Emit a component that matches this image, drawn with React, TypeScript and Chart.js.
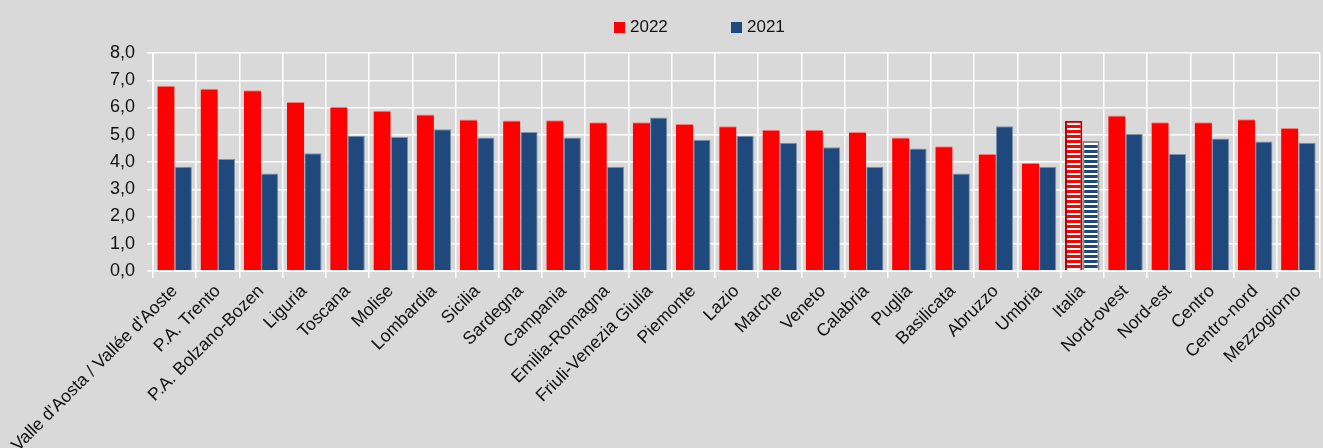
import React, { useEffect, useRef } from 'react';
import Chart from 'chart.js/auto';

const categories = [
  "Valle d'Aosta / Vallée d'Aoste", 'P.A. Trento', 'P.A. Bolzano-Bozen', 'Liguria', 'Toscana',
  'Molise', 'Lombardia', 'Sicilia', 'Sardegna', 'Campania', 'Emilia-Romagna',
  'Friuli-Venezia Giulia', 'Piemonte', 'Lazio', 'Marche', 'Veneto', 'Calabria', 'Puglia',
  'Basilicata', 'Abruzzo', 'Umbria', 'Italia', 'Nord-ovest', 'Nord-est', 'Centro',
  'Centro-nord', 'Mezzogiorno',
];

const values2022 = [
  6.8, 6.69, 6.63, 6.2, 6.02, 5.88, 5.74, 5.56, 5.52, 5.53, 5.46, 5.46, 5.39, 5.31,
  5.18, 5.18, 5.1, 4.9, 4.58, 4.29, 3.96, 5.51, 5.71, 5.46, 5.46, 5.57, 5.25,
];

const values2021 = [
  3.83, 4.11, 3.58, 4.32, 4.96, 4.92, 5.2, 4.9, 5.1, 4.9, 3.83, 5.63, 4.82, 4.96,
  4.71, 4.54, 3.83, 4.5, 3.58, 5.31, 3.83, 4.77, 5.03, 4.29, 4.86, 4.75, 4.71,
];

const seriesLabels = ['2022', '2021'];
const yTicks = [0, 1, 2, 3, 4, 5, 6, 7, 8];

const RED = '#ff0000';
const BLUE = '#1f497d';
const BG = '#d9d9d9';
const FONT = "'Liberation Sans', Arial, sans-serif";

// horizontal stripes used for the national total
function stripes(color: string): CanvasPattern | string {
  const c = document.createElement('canvas');
  c.width = 4;
  c.height = 5;
  const g = c.getContext('2d');
  if (!g) return color;
  g.fillStyle = '#ffffff';
  g.fillRect(0, 0, 4, 5);
  g.fillStyle = color;
  g.fillRect(0, 0, 4, 3);
  return g.createPattern(c, 'repeat') || color;
}

const App: React.FC = () => {
  const canvasRef = useRef<HTMLCanvasElement | null>(null);

  useEffect(() => {
    document.body.style.margin = '0';
    document.body.style.background = BG;
    if (!canvasRef.current) return;

    const hl = categories.indexOf('Italia');
    const redStripes = stripes(RED);
    const blueStripes = stripes(BLUE);

    const chart = new Chart(canvasRef.current, {
      type: 'bar',
      data: {
        labels: categories,
        datasets: [
          {
            label: seriesLabels[0],
            data: values2022,
            backgroundColor: (c: any) => (c.dataIndex === hl ? redStripes : RED),
            borderColor: (c: any) => (c.dataIndex === hl ? '#c00000' : '#ff7a7a'),
            borderWidth: (c: any) => (c.dataIndex === hl ? 2 : { top: 1, left: 0, right: 0, bottom: 0 }),
            categoryPercentage: 0.8,
            barPercentage: 1,
          },
          {
            label: seriesLabels[1],
            data: values2021,
            backgroundColor: (c: any) => (c.dataIndex === hl ? blueStripes : BLUE),
            borderColor: (c: any) => (c.dataIndex === hl ? '#8c8c8c' : '#7d93ae'),
            borderWidth: (c: any) => (c.dataIndex === hl ? 2 : 1),
            categoryPercentage: 0.8,
            barPercentage: 1,
          },
        ],
      },
      options: {
        animation: false,
        responsive: true,
        maintainAspectRatio: false,
        layout: { padding: { top: 53, right: 3, left: 0, bottom: 0 } },
        plugins: {
          legend: { display: false },
          tooltip: { enabled: false },
        },
        scales: {
          x: {
            grid: { color: '#ffffff', lineWidth: 1.5, tickLength: 7, offset: true },
            border: { color: '#ffffff', width: 2 },
            ticks: {
              color: '#111111',
              font: { family: FONT, size: 17.6 },
              minRotation: 45,
              maxRotation: 45,
              autoSkip: false,
              padding: 3,
            },
            afterFit: (s: any) => {
              s.height = 177;
              s.paddingLeft = 0;
              s.paddingRight = 0;
            },
          },
          y: {
            min: 0,
            max: 8,
            afterBuildTicks: (s: any) => {
              s.ticks = yTicks.map((v) => ({ value: v }));
            },
            grid: { color: '#ffffff', lineWidth: 1.5, tickLength: 6 },
            border: { color: '#ffffff', width: 2 },
            ticks: {
              color: '#111111',
              font: { family: FONT, size: 18 },
              padding: 12,
              callback: (v: any) => Number(v).toFixed(1).replace('.', ','),
            },
            afterFit: (s: any) => {
              s.width = 153;
            },
          },
        },
      },
    });

    return () => {
      chart.destroy();
    };
  }, []);

  const legendItem = (label: string, color: string, left: number) => (
    <div
      key={label}
      style={{ position: 'absolute', left, top: 15, display: 'flex', alignItems: 'center' }}
    >
      <span style={{ width: 11, height: 11, background: color, display: 'inline-block', marginRight: 5 }} />
      <span style={{ fontFamily: FONT, fontSize: 17, color: '#111111', lineHeight: '24px' }}>{label}</span>
    </div>
  );

  return (
    <div style={{ position: 'relative', width: 1323, height: 448, background: BG }}>
      <canvas ref={canvasRef} />
      {legendItem(seriesLabels[0], RED, 614)}
      {legendItem(seriesLabels[1], BLUE, 731)}
    </div>
  );
};

export default App;
